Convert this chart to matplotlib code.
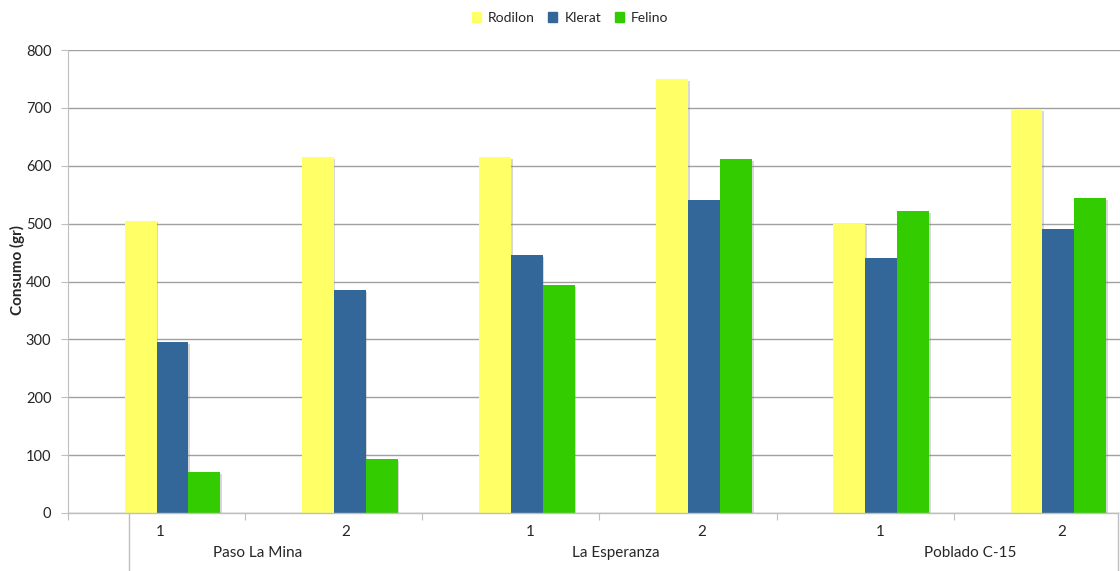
import matplotlib.pyplot as plt
import matplotlib.patches as mpatches
import matplotlib.patheffects as pe
import numpy as np

plt.rcParams['font.family'] = ['Lato', 'DejaVu Sans']

# datos
sitios = ["Paso La Mina", "La Esperanza", "Poblado C-15"]
repeticiones = ["1", "2", "1", "2", "1", "2"]
series = ["Rodilon", "Klerat", "Felino"]
rodilon = [505, 615, 615, 750, 499, 697]
klerat = [295, 385, 446, 540, 441, 491]
felino = [71, 93, 394, 611, 521, 544]
colores = ["#FFFF66", "#336699", "#33CC00"]

W, H = 1120, 571
GRIS_EJE = "#bfbfbf"
GRIS_GRID = "#a0a0a0"
TEXTO = "#262626"


def px_a_x(px):
    # pixel horizontal -> coordenada de datos del eje x
    return (px - 68) / 177.17 - 0.5


fig = plt.figure(figsize=(W / 100, H / 100), dpi=100)
ax = fig.add_axes([68 / W, 58 / H, 1063 / W, 463 / H])

x = np.arange(len(repeticiones))
ancho = 0.18
sombra = [pe.SimplePatchShadow(offset=(1.2, -1.2), shadow_rgbFace="#7f7f7f", alpha=0.3), pe.Normal()]
# el original tenia una serie vacia antes de Rodilon, por eso el desplazamiento
for i, (valores, color) in enumerate(zip([rodilon, klerat, felino], colores)):
    barras = ax.bar(x + (i - 0.5) * ancho, valores, ancho, color=color, zorder=3)
    for b in barras:
        b.set_path_effects(sombra)

ax.set_xlim(-0.5, 5.5)
ax.set_ylim(0, 800)
ax.set_yticks(range(0, 801, 100))
ax.yaxis.grid(True, color=GRIS_GRID, lw=1)
ax.set_axisbelow(True)
for lado in ["top", "right", "bottom"]:
    ax.spines[lado].set_visible(False)
ax.spines["left"].set_color(GRIS_EJE)
ax.tick_params(axis="y", length=5, color=GRIS_EJE, labelsize=10.5, labelcolor=TEXTO, pad=7)

ax.set_xticks(np.arange(-0.5, 5, 1.0))
ax.set_xticklabels([])
ax.tick_params(axis="x", length=5, color=GRIS_EJE)

# linea del eje x y separadores largos de las etiquetas
x_der = px_a_x(1118)
ax.plot([-0.5, x_der], [0, 0], color=GRIS_EJE, lw=1, clip_on=False, zorder=4)
trans = ax.get_xaxis_transform()
for xv in [px_a_x(128.6), x_der]:
    ax.plot([xv, xv], [0, -58 / 463], color=GRIS_EJE, lw=1, transform=trans, clip_on=False)

pos_rep = [160.7, 346, 530, 702, 880, 1062]
for px, etiqueta in zip(pos_rep, repeticiones):
    fig.text(px / W, 1 - 531.7 / H, etiqueta, ha="center", va="center", fontsize=11, color=TEXTO)
pos_sitio = [258, 616, 970]
for px, etiqueta in zip(pos_sitio, sitios):
    fig.text(px / W, 1 - 552.7 / H, etiqueta, ha="center", va="center", fontsize=11, color=TEXTO)

fig.text(17 / W, 1 - 270 / H, "Consumo (gr)", rotation=90, ha="center", va="center",
         fontsize=11, fontweight="bold", color=TEXTO)

handles = [mpatches.Patch(color=c, label=s) for s, c in zip(series, colores)]
fig.legend(handles=handles, loc="center", bbox_to_anchor=(570 / W, 1 - 18 / H), ncol=3,
           frameon=False, fontsize=10, handlelength=0.65, handleheight=0.65,
           handletextpad=0.5, columnspacing=1.0, labelcolor=TEXTO)

fig.savefig("out.png", dpi=100)
